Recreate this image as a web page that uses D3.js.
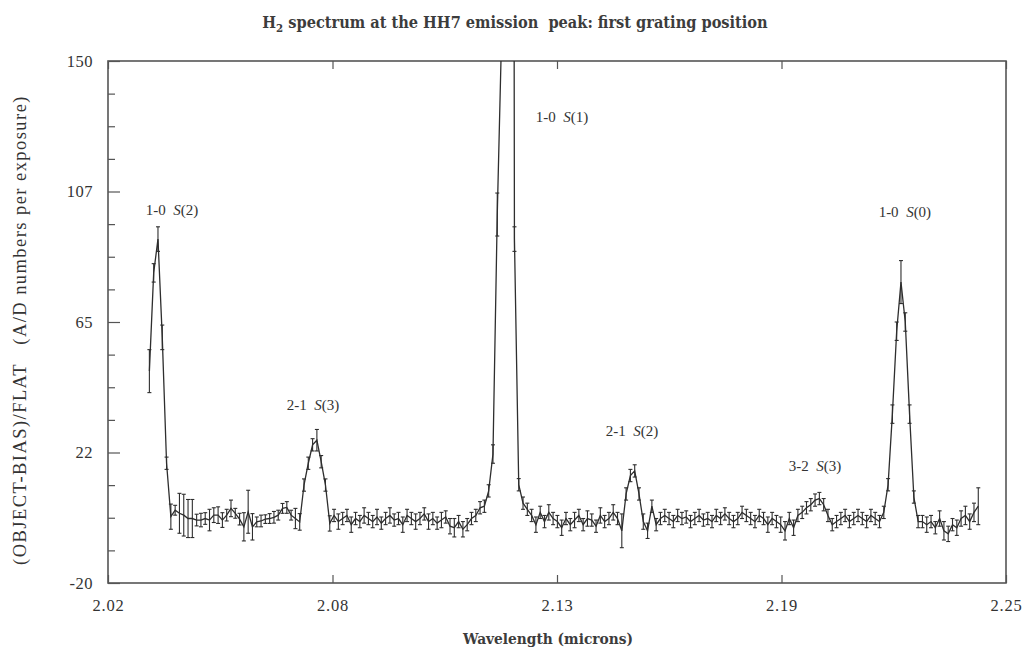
<!DOCTYPE html>
<html><head><meta charset="utf-8">
<script src="https://cdn.jsdelivr.net/npm/d3@7"></script>
<style>html,body{margin:0;padding:0;background:#fff;} svg{display:block;}</style>
</head><body><svg id="chart" width="1025" height="656"></svg>
<script>
// H2 spectrum of HH7, first grating position: wavelength grid (microns)
const wavelength = [
2.0306,2.0317,2.0328,2.0339,2.0350,2.0361,2.0372,2.0383,2.0394,2.0405,
2.0416,2.0427,2.0438,2.0449,2.0460,2.0471,2.0482,2.0493,2.0504,2.0515,
2.0526,2.0537,2.0548,2.0559,2.0570,2.0581,2.0592,2.0603,2.0614,2.0625,
2.0636,2.0647,2.0658,2.0669,2.0680,2.0691,2.0702,2.0713,2.0724,2.0735,
2.0746,2.0757,2.0768,2.0779,2.0790,2.0801,2.0812,2.0823,2.0834,2.0845,
2.0856,2.0867,2.0878,2.0889,2.0900,2.0911,2.0922,2.0933,2.0944,2.0955,
2.0966,2.0977,2.0988,2.0999,2.1010,2.1021,2.1032,2.1043,2.1054,2.1065,
2.1076,2.1087,2.1098,2.1109,2.1120,2.1131,2.1142,2.1153,2.1164,2.1175,
2.1186,2.1197,2.1208,2.1219,2.1230,2.1241,2.1252,2.1263,2.1274,2.1285,
2.1296,2.1307,2.1318,2.1329,2.1340,2.1351,2.1362,2.1373,2.1384,2.1395,
2.1406,2.1417,2.1428,2.1439,2.1450,2.1461,2.1472,2.1483,2.1494,2.1505,
2.1516,2.1527,2.1538,2.1549,2.1560,2.1571,2.1582,2.1593,2.1604,2.1615,
2.1626,2.1637,2.1648,2.1659,2.1670,2.1681,2.1692,2.1703,2.1714,2.1725,
2.1736,2.1747,2.1758,2.1769,2.1780,2.1791,2.1802,2.1813,2.1824,2.1835,
2.1846,2.1857,2.1868,2.1879,2.1890,2.1901,2.1912,2.1923,2.1934,2.1945,
2.1956,2.1967,2.1978,2.1989,2.2000,2.2011,2.2022,2.2033,2.2044,2.2055,
2.2066,2.2077,2.2088,2.2099,2.2110,2.2121,2.2132,2.2143,2.2154,2.2165,
2.2176,2.2187,2.2198,2.2209,2.2220,2.2231,2.2242,2.2253,2.2264,2.2275,
2.2286,2.2297,2.2308,2.2319,2.2330,2.2341,2.2352,2.2363,2.2374,2.2385,
2.2396,2.2407,2.2418,2.2429
];

// (OBJECT-BIAS)/FLAT in A/D numbers per exposure
const flux = [
49,81,92,60,19,1.6,3.7,2.7,2.1,1.0,
1.0,0.5,0.5,1.0,0.5,2.1,2.1,0.5,2.1,4.3,
2.7,0.8,-1.7,3.2,-1.7,-0.1,0.2,0.8,1.0,1.4,
2.1,4.3,4.6,2.1,1.0,-0.1,11.9,19,25,26.5,
19.5,11.9,-0.6,2,0,1,2,-1,1,0,
2,1,0,1.5,-0.5,1,2,0.5,1,-1,
2,1,0,1,2.5,0,1,-0.5,0.5,1.5,
-1.5,-2,0,-2.5,-1,1,2,4.5,5,10,
22,100,158,420,1000,92,12,6,4,2,
-1,3,0,3,1,0,-2,1,-1,0.5,
2,-1,1,0.5,-1.5,2,0,1,3,1,
-3,9,15,16.5,9,0,-3,5,-1,1,
2,1,0,2,1,1.5,0,1,2,0.5,
1,0,2,1,2.5,1,0,1,3,2,
1,0,2,1,-1,1,0,-1,-3,1,
-2,2,3,4.5,5.5,7,7.5,5.5,2,-1,
0,1,2,0,1,2,1,0,2,1,
0,3,12,35,62,78,65,35,8,0,
0,-1,0,-2,1,-3,-4,-1,-2,1,
2,0,3,5
];

// one-sigma uncertainty of each point
const sigma = [
7,3,4,4,2,4.1,1.6,6.5,6.8,6.2,
6.2,1.9,2.2,1.9,3.5,2.4,2.7,2.4,1.9,2.7,
1.6,1.9,4.6,7,4.3,1.6,1.9,1.4,1.6,1.9,
1.6,1.6,1.9,1.6,3.3,2.7,2,2,2,3.5,
2,2,2.5,2,2.5,2,2,2.5,2,2,
2.5,2,2,2.5,2,2,2.5,2,2,2.5,
2,2,2.5,2,2,2.5,2,2,2.5,2,
2.5,3,2,2.5,2,2,2,2,2,2,
3,7,5,5,5,4,2,2,2,2,
2.5,2,2,2.5,2,2,2.5,2,2,2.5,
2,2,2.5,2,2,2.5,2,2,2.5,2,
5.5,2,2,2,2,2.5,2.5,2,2,2,
2,2,2,2,2,2,2,2,2,2,
2,2,2,2,2,2,2,2,2,2,
2,2,2,2,2.5,2,2,2.5,3,2,
2.5,2,2,2,2,2,2,2,2,2,
2,2,2,2,2,2,2,2,2,2,
2,2,2,3,3,7,3,3,2,2,
2,2.5,2,2,2.5,3,2.5,2,2.5,2.5,
3,2.5,3,6
];

// axis ticks
const xTickValues = [2.02, 2.0775, 2.135, 2.1925, 2.25];
const xTickLabels = ["2.02", "2.08", "2.13", "2.19", "2.25"];
const yTickValues = [-20, 22.5, 65, 107.5, 150];
const yTickLabels = ["-20", "22", "65", "107", "150"];
const yMinorTicks = [-9.375, 1.25, 11.875, 33.125, 43.75, 54.375, 75.625, 86.25, 96.875, 118.125, 128.75, 139.375];

// identified H2 lines: band, branch label, label anchor (wavelength, level)
const lineBands = ["1-0", "2-1", "1-0", "2-1", "3-2", "1-0"];
const lineBranches = ["S(2)", "S(3)", "S(1)", "S(2)", "S(3)", "S(0)"];
const lineLabelWl = [2.0364, 2.0725, 2.1363, 2.1542, 2.2011, 2.2241];
const lineLabelLevel = [99.8, 36.3, 130.1, 27.8, 16.4, 99.2];

const svg = d3.select("#chart");
const pL = 108, pR = 1006, pT = 61, pB = 583;
const x = d3.scaleLinear().domain([2.02, 2.25]).range([pL, pR]);
const y = d3.scaleLinear().domain([-20, 150]).range([pB, pT]);
const ink = "#2e2e2e";
const serif = "'Liberation Serif', 'Times New Roman', serif";
const slab = "'DejaVu Serif', serif";

// scale a text's font size so that it spans the target width
function fitWidth(sel, target) {
  const fs = parseFloat(sel.attr("font-size"));
  const w = sel.node().getComputedTextLength();
  sel.attr("font-size", (fs * target / w).toFixed(2));
}
// widen a text with letter spacing so that it spans the target width
function spreadWidth(sel, target) {
  const n = sel.node();
  const chars = n.getNumberOfChars();
  const w = n.getComputedTextLength();
  sel.attr("letter-spacing", Math.max(0, (target - w) / chars).toFixed(2));
}

// clip region for the spectrum
svg.append("defs").append("clipPath").attr("id", "plotClip")
  .append("rect").attr("x", pL).attr("y", pT)
  .attr("width", pR - pL).attr("height", pB - pT);

const data = wavelength.map((w, i) => ({w, v: flux[i], s: sigma[i]}));

// frame
svg.append("rect").attr("x", pL).attr("y", pT)
  .attr("width", pR - pL).attr("height", pB - pT)
  .attr("fill", "none").attr("stroke", "#555").attr("stroke-width", 1.6);

// axes with inward ticks
function styleAxis(g) {
  g.select(".domain").remove();
  g.selectAll(".tick line").attr("stroke", "#555").attr("stroke-width", 1.2);
  g.selectAll(".tick text").attr("fill", "#333").attr("font-family", serif).attr("font-size", 16.5);
}
svg.append("g").attr("transform", `translate(${pL},0)`)
  .call(d3.axisLeft(y).tickValues(yTickValues).tickFormat((d, i) => yTickLabels[i])
    .tickSizeInner(-12).tickSizeOuter(0).tickPadding(15))
  .call(styleAxis)
  .selectAll(".tick text").attr("letter-spacing", 0.5);
svg.append("g").attr("transform", `translate(${pL},0)`)
  .call(d3.axisLeft(y).tickValues(yMinorTicks).tickFormat("").tickSizeInner(-7).tickSizeOuter(0))
  .call(styleAxis);
svg.append("g").attr("transform", `translate(0,${pB})`)
  .call(d3.axisBottom(x).tickValues(xTickValues).tickFormat((d, i) => xTickLabels[i])
    .tickSizeInner(-8).tickSizeOuter(0).tickPadding(16))
  .call(styleAxis)
  .selectAll(".tick text").attr("letter-spacing", 0.8);
svg.append("g").attr("transform", `translate(0,${pT})`)
  .call(d3.axisTop(x).tickValues(xTickValues).tickFormat("").tickSizeInner(-8).tickSizeOuter(0))
  .call(styleAxis);

// spectrum line and error bars
const plot = svg.append("g").attr("clip-path", "url(#plotClip)");
plot.append("path").datum(data)
  .attr("fill", "none").attr("stroke", ink).attr("stroke-width", 1.3)
  .attr("d", d3.line().x(d => x(d.w)).y(d => y(d.v)));

const bars = plot.append("g").attr("stroke", ink).attr("stroke-width", 1.1)
  .selectAll("g").data(data).join("g");
bars.append("line")
  .attr("x1", d => x(d.w)).attr("x2", d => x(d.w))
  .attr("y1", d => y(d.v - d.s)).attr("y2", d => y(d.v + d.s));
bars.append("line")
  .attr("x1", d => x(d.w) - 2).attr("x2", d => x(d.w) + 2)
  .attr("y1", d => y(d.v + d.s)).attr("y2", d => y(d.v + d.s));
bars.append("line")
  .attr("x1", d => x(d.w) - 2).attr("x2", d => x(d.w) + 2)
  .attr("y1", d => y(d.v - d.s)).attr("y2", d => y(d.v - d.s));

// line identifications
lineBands.forEach((b, i) => {
  const t = svg.append("text")
    .attr("x", x(lineLabelWl[i])).attr("y", y(lineLabelLevel[i]))
    .attr("text-anchor", "middle").attr("font-family", serif)
    .attr("font-size", 15).attr("fill", "#333");
  t.append("tspan").text(b + "\u00a0\u00a0");
  t.append("tspan").attr("font-style", "italic").text(lineBranches[i].slice(0, 1));
  t.append("tspan").text(lineBranches[i].slice(1));
});

// title
const title = svg.append("text").attr("x", 515).attr("y", 28)
  .attr("text-anchor", "middle").attr("font-family", slab)
  .attr("font-stretch", "condensed")
  .attr("font-weight", "bold").attr("font-size", 15).attr("fill", "#3c3c3c");
title.append("tspan").text("H");
title.append("tspan").attr("font-size", "0.7em").attr("dy", 4).text("2");
title.append("tspan").attr("dy", -4).text(" spectrum at the HH7 emission\u00a0 peak: first grating position");
fitWidth(title, 506);

// axis titles
const xt = svg.append("text").attr("x", 548).attr("y", 644)
  .attr("text-anchor", "middle").attr("font-family", slab)
  .attr("font-stretch", "condensed")
  .attr("font-weight", "bold").attr("font-size", 13).attr("fill", "#3c3c3c")
  .text("Wavelength (microns)");
fitWidth(xt, 170);

const yt = svg.append("text")
  .attr("transform", `translate(26,330) rotate(-90)`)
  .attr("text-anchor", "middle").attr("font-family", serif)
  .attr("font-size", 18.5).attr("fill", "#333")
  .text("(OBJECT-BIAS)/FLAT\u00a0\u00a0 (A/D numbers per exposure)");
spreadWidth(yt, 470);
</script>
</body></html>
